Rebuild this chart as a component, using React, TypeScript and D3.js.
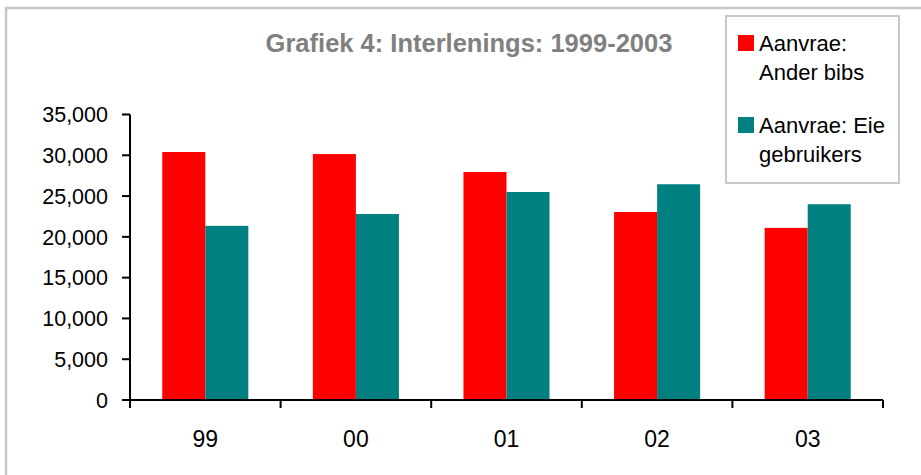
import * as React from "react";
import * as d3 from "d3";

const years = ["99", "00", "01", "02", "03"];
const anderBibs = [30400, 30150, 27950, 23050, 21100];
const eieGebruikers = [21350, 22800, 25500, 26450, 24000];
const seriesNames = [["Aanvrae:", "Ander bibs"], ["Aanvrae: Eie", "gebruikers"]];
const seriesColors = ["#ff0000", "#008080"];
const yTicks = [0, 5000, 10000, 15000, 20000, 25000, 30000, 35000];

const font = "Arial, 'Liberation Sans', sans-serif";

export default function App() {
  const left = 130;
  const right = 883;
  const top = 114.5;
  const bottom = 400;

  const x = d3.scaleBand().domain(years).range([left, right]).paddingInner(0).paddingOuter(0);
  // excel gap width ~150%
  const barW = x.bandwidth() / 3.5;
  const y = d3.scaleLinear().domain([0, 35000]).range([bottom, top]);
  const fmt = d3.format(",");

  const series = [anderBibs, eieGebruikers];

  return (
    <svg
      width={921}
      height={475}
      style={{ position: "absolute", left: 0, top: 0, background: "#fff" }}
      fontFamily={font}
    >
      <rect x={6} y={8} width={1000} height={600} fill="#fff" stroke="#c8c8c8" strokeWidth={2.5} />

      <text x={469} y={52} textAnchor="middle" fontSize={25.5} fontWeight="bold" fill="#808080">
        Grafiek 4: Interlenings: 1999-2003
      </text>

      {/* bars */}
      {series.map((vals, s) =>
        vals.map((v, i) => (
          <rect
            key={`${s}-${i}`}
            x={(x(years[i]) as number) + barW * 0.75 + s * barW}
            y={y(v)}
            width={barW}
            height={bottom - y(v)}
            fill={seriesColors[s]}
          />
        ))
      )}

      {/* y axis */}
      <line x1={left} x2={left} y1={top} y2={bottom} stroke="#000" strokeWidth={2} />
      {yTicks.map((t) => (
        <g key={t}>
          <line x1={left - 8} x2={left} y1={y(t)} y2={y(t)} stroke="#000" strokeWidth={2} />
          <text x={left - 22} y={y(t)} dy="0.36em" textAnchor="end" fontSize={21.5} fill="#000">
            {fmt(t)}
          </text>
        </g>
      ))}

      {/* x axis */}
      <line x1={left} x2={right} y1={bottom} y2={bottom} stroke="#000" strokeWidth={2} />
      {[...years.map((yr) => x(yr) as number), right].map((px, i) => (
        <line key={i} x1={px} x2={px} y1={bottom} y2={bottom + 8} stroke="#000" strokeWidth={2} />
      ))}
      {years.map((yr) => (
        <text
          key={yr}
          x={(x(yr) as number) + x.bandwidth() / 2}
          y={447}
          textAnchor="middle"
          fontSize={23}
          fill="#000"
        >
          {yr}
        </text>
      ))}

      {/* legend */}
      <rect x={726} y={16} width={173} height={167} fill="#fff" stroke="#c8c8c8" strokeWidth={2} />
      {seriesNames.map((lines, s) => (
        <g key={s} transform={`translate(738, ${51 + s * 82})`}>
          <rect x={0} y={-16} width={16} height={16} fill={seriesColors[s]} />
          {lines.map((ln, k) => (
            <text key={k} x={21} y={k * 29} fontSize={22} fill="#000">
              {ln}
            </text>
          ))}
        </g>
      ))}
    </svg>
  );
}
